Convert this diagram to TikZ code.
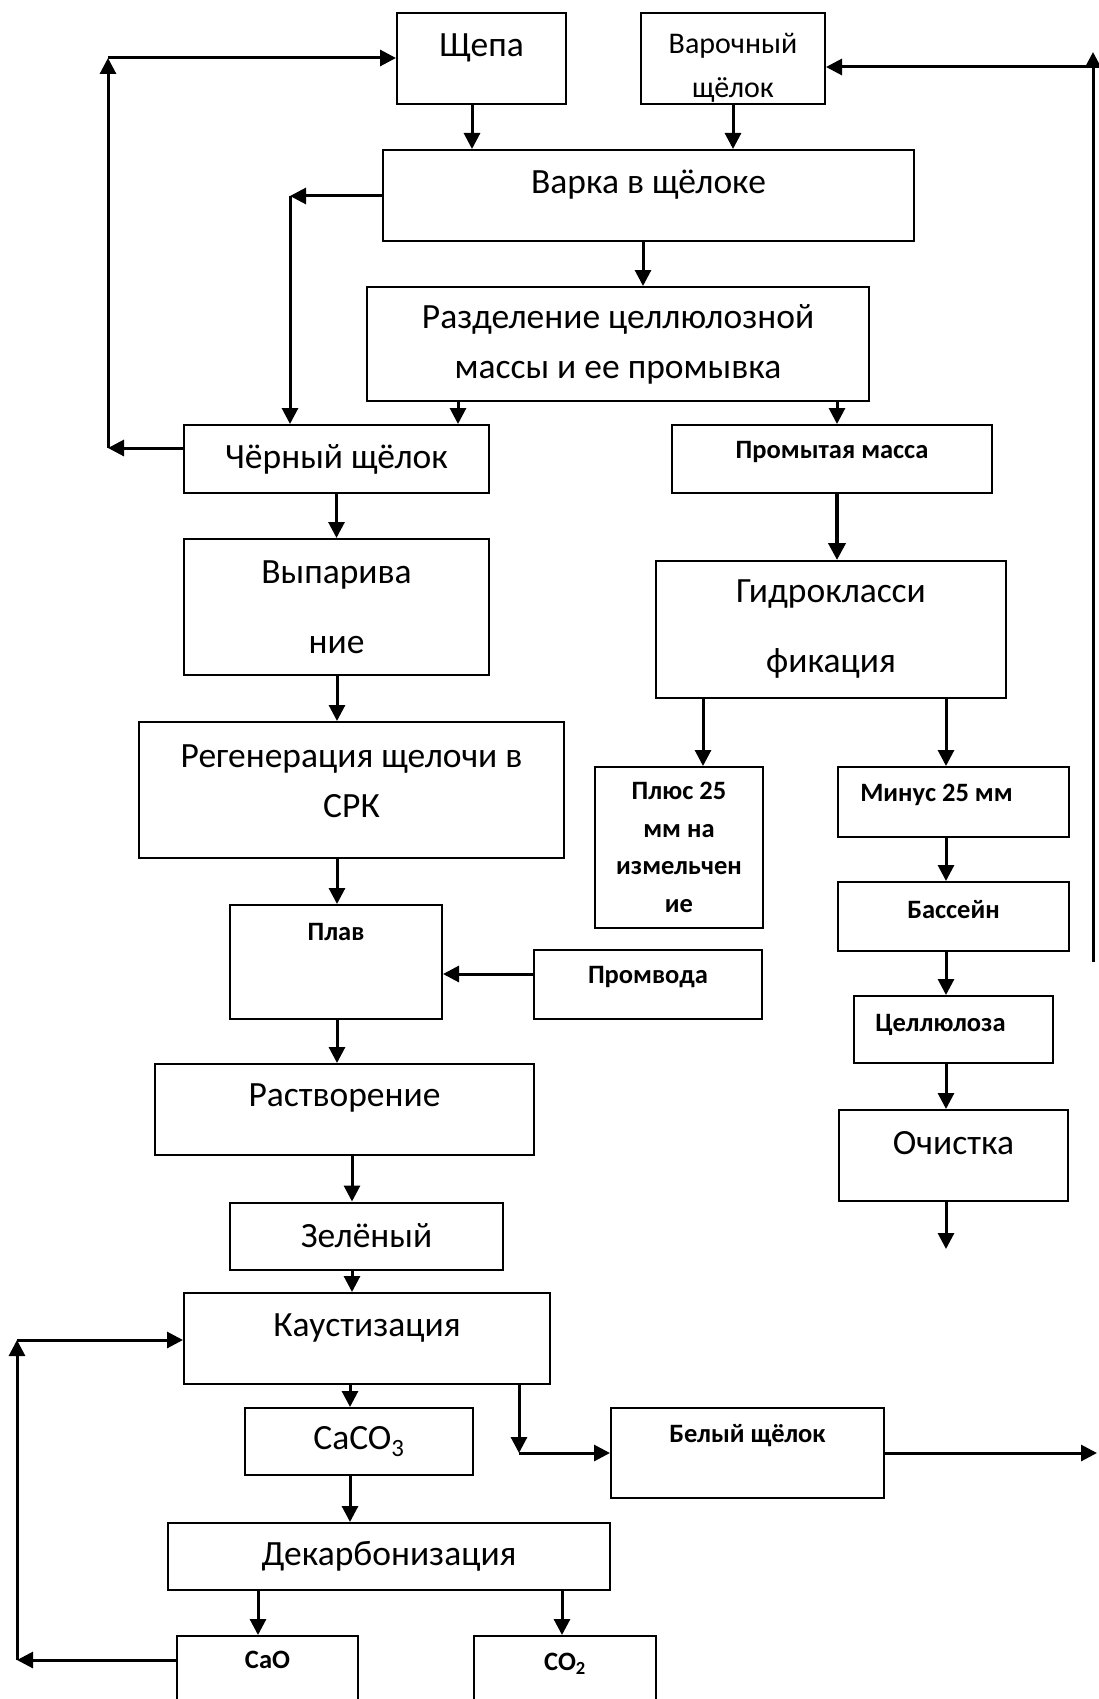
\documentclass[tikz,border=0pt]{standalone}
\usepackage{fontspec}
\setmainfont{Carlito}
\usetikzlibrary{arrows.meta}
\newcommand{\lift}[2]{\raisebox{#1}[\height][\depth]{#2}}

\begin{document}
\begin{tikzpicture}[x=1pt,y=-1pt]
\tikzset{
  box/.style={draw,line width=2pt,inner sep=0pt,align=center},
  big/.style={font=\fontsize{35.5}{50}\selectfont},
  mid/.style={font=\fontsize{30}{44}\selectfont},
  bld/.style={font=\bfseries\fontsize{26.5}{37.6}\selectfont},
  arr/.style={line width=3pt,-{Triangle[length=16pt,width=16pt]}},
  fatarr/.style={line width=4pt,-{Triangle[length=17pt,width=17pt]}}
}
\useasboundingbox (0,0) rectangle (1099,1699);
% upper part
\node[box,big,minimum width=169pt,minimum height=91pt] (schepa) at (481.5,58.5) {\lift{11pt}{Щепа}};
\node[box,mid,minimum width=184pt,minimum height=91pt,text height=82pt] (varoch) at (733,58.5) {Варочный\\щёлок};
\node[box,big,minimum width=531pt,minimum height=91pt] (varka) at (648.5,195.5) {\lift{11pt}{Варка в щёлоке}};
\node[box,big,minimum width=502pt,minimum height=114pt] (razd) at (618,344) {Разделение целлюлозной\\массы и ее промывка};
\node[box,big,minimum width=305pt,minimum height=68pt] (black) at (336.5,459) {Чёрный щёлок};
\node[box,bld,minimum width=320pt,minimum height=68pt] (promyt) at (832,459) {\lift{7pt}{Промытая масса}};
% left column
\node[box,big,minimum width=305pt,minimum height=136pt,font=\fontsize{35.5}{70}\selectfont] (vypar) at (336.5,607) {Выпарива\\ние};
\node[box,big,minimum width=425pt,minimum height=136pt,text depth=18pt] (regen) at (351.5,790) {Регенерация щелочи в\\СРК};
\node[box,bld,minimum width=212pt,minimum height=114pt] (plav) at (336,962) {\lift{30pt}{Плав}};
\node[box,bld,minimum width=228pt,minimum height=69pt] (promv) at (648,984.5) {\lift{7pt}{Промвода}};
\node[box,big,minimum width=379pt,minimum height=91pt] (rastv) at (344.5,1109.5) {\lift{12pt}{Растворение}};
\node[box,big,minimum width=273pt,minimum height=67pt] (zel) at (366.5,1236) {Зелёный};
\node[box,big,minimum width=366pt,minimum height=91pt] (kaust) at (367,1338.5) {\lift{10pt}{Каустизация}};
\node[box,big,minimum width=228pt,minimum height=67pt] (caco) at (359,1441.5) {CaCO\textsubscript{3}};
\node[box,bld,minimum width=273pt,minimum height=90pt] (white) at (747.5,1453) {\lift{17pt}{Белый щёлок}};
\node[box,big,minimum width=442pt,minimum height=67pt] (dekarb) at (389,1556.5) {Декарбонизация};
\node[box,bld,minimum width=181pt,minimum height=84pt] (cao) at (267.5,1678) {\lift{18pt}{CaO}};
\node[box,bld,minimum width=182pt,minimum height=84pt] (co) at (565,1678) {\lift{14pt}{CO\textsubscript{2}}};
% right column
\node[box,big,minimum width=350pt,minimum height=137pt,font=\fontsize{35.5}{70}\selectfont] (gidro) at (831,629.5) {Гидрокласси\\фикация};
\node[box,bld,minimum width=168pt,minimum height=161pt] (plus) at (679,847.5) {Плюс 25\\мм на\\измельчен\\ие};
\node[box,bld,minimum width=231pt,minimum height=70pt] (minus) at (953.5,802) {\lift{7pt}{Минус 25 мм\hspace{34pt}}};
\node[box,bld,minimum width=231pt,minimum height=69pt] (bass) at (953.5,916.5) {\lift{7pt}{Бассейн}};
\node[box,bld,minimum width=199pt,minimum height=67pt] (cell) at (953.5,1029.5) {\lift{5pt}{Целлюлоза\hspace{26pt}}};
\node[box,big,minimum width=229pt,minimum height=91pt] (ochist) at (953.5,1155.5) {\lift{12pt}{Очистка}};
% corners of the loops
\coordinate (cv) at (290,196);
\coordinate (cl1) at (108,448);
\coordinate (cl2) at (108,58);
\coordinate (cr1) at (1093,962);
\coordinate (cr2) at (1093,52);
\coordinate (cr3) at (1093,67);
\coordinate (cw) at (519,1453);
\coordinate (cwo) at (1097,1453);
\coordinate (cb1) at (17,1660);
\coordinate (cb2) at (17,1340);
\coordinate (cend) at (946,1249);
% connectors
\draw[arr] (schepa.south -| 472,0) -- (varka.north -| 472,0);
\draw[arr] (varoch.south) -- (varoch.south |- varka.north);
\draw[arr] (varka.south -| 643,0) -- (razd.north -| 643,0);
\draw[arr] (razd.south -| 458,0) -- (black.north -| 458,0);
\draw[arr] (razd.south -| 837,0) -- (promyt.north -| 837,0);
\draw[arr] (varka.west |- cv) -- (cv);
\draw[arr] (cv) -- (cv |- black.north);
\draw[arr] (black.west |- cl1) -- (cl1);
\draw[arr] (cl1) -- (cl2);
\draw[arr] (cl2) -- (cl2 -| schepa.west);
\draw[arr] (cr1) -- (cr2);
\draw[arr] (cr3) -- (cr3 -| varoch.east);
\draw[arr] (black.south) -- (vypar.north);
\draw[arr] (vypar.south -| 337,0) -- (regen.north -| 337,0);
\draw[arr] (regen.south -| 337,0) -- (plav.north -| 337,0);
\draw[arr] (promv.west |- 0,974) -- (plav.east |- 0,974);
\draw[arr] (plav.south -| 337,0) -- (rastv.north -| 337,0);
\draw[arr] (rastv.south -| 352,0) -- (zel.north -| 352,0);
\draw[arr] (zel.south -| 352,0) -- (kaust.north -| 352,0);
\draw[arr] (kaust.south -| 350,0) -- (caco.north -| 350,0);
\draw[arr] (kaust.south -| cw) -- (cw);
\draw[arr] (cw) -- (cw -| white.west);
\draw[arr] (white.east) -- (cwo);
\draw[arr] (caco.south -| 350,0) -- (dekarb.north -| 350,0);
\draw[arr] (dekarb.south -| 258,0) -- (cao.north -| 258,0);
\draw[arr] (dekarb.south -| 562,0) -- (co.north -| 562,0);
\draw[arr] (cao.west |- cb1) -- (cb1);
\draw[arr] (cb1) -- (cb2);
\draw[arr] (cb2) -- (cb2 -| kaust.west);
\draw[fatarr] (promyt.south -| 837,0) -- (gidro.north -| 837,0);
\draw[arr] (gidro.south -| 703,0) -- (plus.north -| 703,0);
\draw[arr] (gidro.south -| 946,0) -- (minus.north -| 946,0);
\draw[arr] (minus.south -| 946,0) -- (bass.north -| 946,0);
\draw[arr] (bass.south -| 946,0) -- (cell.north -| 946,0);
\draw[arr] (cell.south -| 946,0) -- (ochist.north -| 946,0);
\draw[arr] (ochist.south -| cend) -- (cend);
\end{tikzpicture}
\end{document}
